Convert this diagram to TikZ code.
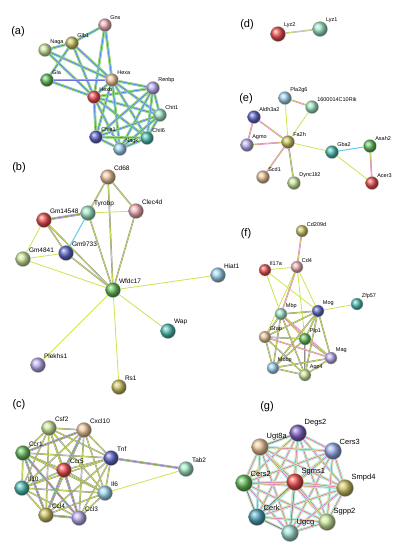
\documentclass[tikz,border=0pt]{standalone}
\usepackage{fontspec}
\setmainfont{Liberation Sans}
\usetikzlibrary{backgrounds}
\definecolor{cred}{RGB}{238,80,80}
\definecolor{cpink}{RGB}{240,178,182}
\definecolor{ctan}{RGB}{236,198,155}
\definecolor{colive}{RGB}{205,195,100}
\definecolor{clgreen}{RGB}{205,232,155}
\definecolor{cgreen}{RGB}{100,190,90}
\definecolor{cmint}{RGB}{160,230,198}
\definecolor{cteal}{RGB}{80,190,180}
\definecolor{cblue}{RGB}{95,105,200}
\definecolor{clblue}{RGB}{160,212,240}
\definecolor{clav}{RGB}{190,175,240}
\definecolor{cpurple}{RGB}{130,100,200}
\definecolor{cperi}{RGB}{150,170,235}
\definecolor{ccerk}{RGB}{80,165,190}
\definecolor{cugcg}{RGB}{160,225,212}
\definecolor{etm}{RGB}{205,228,80}
\definecolor{eco}{RGB}{95,95,95}
\definecolor{eex}{RGB}{230,110,220}
\definecolor{edb}{RGB}{90,205,238}
\definecolor{enb}{RGB}{110,200,110}
\definecolor{eoc}{RGB}{110,115,225}
\tikzset{
  gnode/.style={circle, inner sep=0pt, shading=ball, draw=black!30, line width=0.3pt},
  pa/.style={gnode, minimum size=13pt, label distance=0pt},
  pb/.style={gnode, minimum size=15pt},
  pg/.style={gnode, minimum size=17pt},
  pf/.style={gnode, minimum size=12pt},
  la/.style={inner sep=0.4pt, font=\fontsize{5.5}{6}\selectfont},
  lb/.style={inner sep=0.4pt, font=\fontsize{6.5}{7}\selectfont},
  lg/.style={inner sep=0.4pt, font=\fontsize{7.5}{8}\selectfont},
  plab/.style={font=\fontsize{11}{12}\selectfont, inner sep=0pt},
  tm/.style={draw=etm, line width=0.8pt},
  tmco/.style={draw=eco!70, line width=1.5pt, postaction={draw=etm, line width=0.65pt}},
  tmex/.style={draw=eex, line width=1.5pt, postaction={draw=etm, line width=0.65pt}},
  full/.style={draw=eex, line width=2.3pt, postaction={draw=edb, line width=1.6pt},
    postaction={draw=etm, line width=0.95pt}, postaction={draw=eco, line width=0.35pt}},
  rich/.style={draw=enb, line width=2.6pt, postaction={draw=etm, line width=1.95pt},
    postaction={draw=edb, line width=1.3pt}, postaction={draw=eoc, line width=0.55pt}},
  gfull/.style={draw=edb, line width=2.5pt, postaction={draw=white, line width=1.9pt},
    postaction={draw=etm, line width=1.35pt}, postaction={draw=eex, line width=0.55pt}},
  gdark/.style={draw=eco!80, line width=0.6pt},
}
\begin{document}
\begin{tikzpicture}[x=1pt, y=-1pt]
\useasboundingbox (0,0) rectangle (399,550);
% ---------- (a)
\node[plab] (labA) at (18,32) {(a)};
\node[pa, ball color=cpink, label={[la]45:Gns}] (gns) at (105,25) {};
\node[pa, ball color=colive, label={[la]45:Glb1}] (glb1) at (72,43) {};
\node[pa, ball color=clgreen, label={[la]45:Naga}] (naga) at (45,50) {};
\node[pa, ball color=cgreen, label={[la]45:Gla}] (gla) at (47,80) {};
\node[pa, ball color=ctan, label={[la]45:Hexa}] (hexa) at (112,80) {};
\node[pa, ball color=cred, label={[la]45:Hexb}] (hexb) at (94,97) {};
\node[pa, ball color=clav, label={[la]45:Renbp}] (renbp) at (153,88) {};
\node[pa, ball color=cmint, label={[la]45:Chit1}] (chit1) at (160,115) {};
\node[pa, ball color=cteal, label={[la]45:Chil6}] (chil6) at (147,138) {};
\node[pa, ball color=cblue, label={[la]45:Chia1}] (chia1) at (96,137) {};
\node[pa, ball color=clblue, label={[la]45:Nagk}] (nagk) at (120,149) {};
% ---------- (b)
\node[plab] (labB) at (19,168) {(b)};
\node[pb, ball color=ctan, label={[lb]45:Cd68}] (cd68) at (108,177) {};
\node[pb, ball color=cmint, label={[lb]45:Tyrobp}] (tyrobp) at (88,213) {};
\node[pb, ball color=cpink, label={[lb]45:Clec4d}] (clec4d) at (136,211) {};
\node[pb, ball color=cred, label={[lb]45:Gm14548}] (gm14548) at (44,220) {};
\node[pb, ball color=cblue, label={[lb]45:Gm9733}] (gm9733) at (66,253) {};
\node[pb, ball color=clgreen, label={[lb]45:Gm4841}] (gm4841) at (23,259) {};
\node[pb, ball color=cgreen, label={[lb]45:Wfdc17}] (wfdc17) at (113,290) {};
\node[pb, ball color=clblue, label={[lb]45:Hiat1}] (hiat1) at (218,275) {};
\node[pb, ball color=cteal, label={[lb]45:Wap}] (wap) at (168,331) {};
\node[pb, ball color=clav, label={[lb]45:Plekhs1}] (plekhs1) at (38,365) {};
\node[pb, ball color=colive, label={[lb]45:Rs1}] (rs1) at (119,387) {};
% ---------- (c)
\node[plab] (labC) at (19,405) {(c)};
\node[pb, ball color=clgreen, label={[lb]45:Csf2}] (csf2) at (49,428) {};
\node[pb, ball color=ctan, label={[lb]45:Cxcl10}] (cxcl10) at (84,430) {};
\node[pb, ball color=cgreen, label={[lb]45:Ccr1}] (ccr1) at (23,453) {};
\node[pb, ball color=cblue, label={[lb]45:Tnf}] (tnf) at (111,458) {};
\node[pb, ball color=cred, label={[lb]45:Ccr5}] (ccr5) at (64,470) {};
\node[pb, ball color=cmint, label={[lb]45:Tab2}] (tab2) at (186,469) {};
\node[pb, ball color=cteal, label={[lb]45:Il10}] (il10) at (22,488) {};
\node[pb, ball color=clblue, label={[lb]45:Il6}] (il6) at (105,493) {};
\node[pb, ball color=colive, label={[lb]45:Ccl4}] (ccl4) at (46,515) {};
\node[pb, ball color=clav, label={[lb]45:Ccl3}] (ccl3) at (79,518) {};
% ---------- (d)
\node[plab] (labD) at (247,25) {(d)};
\node[pb, ball color=cred, label={[la]45:Lyz2}] (lyz2) at (278,34) {};
\node[pb, ball color=cmint, label={[la]45:Lyz1}] (lyz1) at (320,29) {};
% ---------- (e)
\node[plab] (labE) at (246,99) {(e)};
\node[pa, ball color=clblue, label={[la]45:Pla2g6}] (pla) at (285,98) {};
\node[pa, ball color=cmint, label={[la]45:1600014C10Rik}] (rik) at (312,107) {};
\node[pa, ball color=cblue, label={[la]45:Aldh3a2}] (ald) at (254,117) {};
\node[pa, ball color=clav, label={[la]45:Agmo}] (agmo) at (247,145) {};
\node[pa, ball color=colive, label={[la]45:Fa2h}] (fa2h) at (288,142) {};
\node[pa, ball color=cteal, label={[la]45:Gba2}] (gba2) at (332,152) {};
\node[pa, ball color=cgreen, label={[la]45:Asah2}] (asah2) at (370,146) {};
\node[pa, ball color=cred, label={[la]45:Acer3}] (acer3) at (372,183) {};
\node[pa, ball color=ctan, label={[la]45:Scd1}] (scd1) at (263,177) {};
\node[pa, ball color=clgreen, label={[la]45:Dync1li2}] (dync) at (294,183) {};
% ---------- (f)
\node[plab] (labF) at (246,234) {(f)};
\node[pf, ball color=colive, label={[la]45:Cd209d}] (cd209d) at (302,231) {};
\node[pf, ball color=cred, label={[la]45:Il17a}] (il17a) at (265,270) {};
\node[pf, ball color=cpink, label={[la]45:Cd4}] (cd4) at (297,267) {};
\node[pf, ball color=cteal, label={[la]45:Zfp57}] (zfp57) at (357,304) {};
\node[pf, ball color=cblue, label={[la]45:Mog}] (mog) at (318,311) {};
\node[pf, ball color=cmint, label={[la]45:Mbp}] (mbp) at (281,314) {};
\node[pf, ball color=ctan, label={[la]45:Gfap}] (gfap) at (265,337) {};
\node[pf, ball color=cgreen, label={[la]45:Plp1}] (plp1) at (305,339) {};
\node[pf, ball color=clav, label={[la]45:Mag}] (mag) at (331,358) {};
\node[pf, ball color=clblue, label={[la]45:Mobp}] (mobp) at (273,368) {};
\node[pf, ball color=clgreen, label={[la]45:Aqp4}] (aqp4) at (305,375) {};
% ---------- (g)
\node[plab] (labG) at (267,407) {(g)};
\node[pg, ball color=cpurple, label={[lg]45:Degs2}] (degs2) at (298,433) {};
\node[pg, ball color=ctan, label={[lg]45:Ugt8a}] (ugt8a) at (260,447) {};
\node[pg, ball color=cperi, label={[lg]45:Cers3}] (cers3) at (333,451) {};
\node[pg, ball color=cgreen, label={[lg]45:Cers2}] (cers2) at (244,483) {};
\node[pg, ball color=cred, label={[lg]45:Sgms1}] (sgms1) at (295,482) {};
\node[pg, ball color=colive, label={[lg]45:Smpd4}] (smpd4) at (345,488) {};
\node[pg, ball color=ccerk, label={[lg]45:Cerk}] (cerk) at (257,517) {};
\node[pg, ball color=clgreen, label={[lg]45:Sgpp2}] (sgpp2) at (327,522) {};
\node[pg, ball color=cugcg, label={[lg]45:Ugcg}] (ugcg) at (290,533) {};
% ---------- edges
\begin{scope}[on background layer]
\fill[white] (0,0) rectangle (399,550);
% (a)
\foreach \a/\b in {gns/glb1, gns/hexa, gns/hexb, glb1/naga, glb1/gla, glb1/hexa, glb1/hexb,
  naga/hexa, naga/hexb, gla/hexa, gla/hexb, hexa/hexb, hexa/renbp, hexb/renbp, hexa/chit1,
  hexb/chit1, hexa/chil6, hexb/chil6, hexa/chia1, hexb/chia1, hexa/nagk, hexb/nagk,
  renbp/nagk, renbp/chia1, renbp/chil6, renbp/chit1, chit1/chia1, chit1/chil6, chit1/nagk,
  chil6/chia1, chil6/nagk, chia1/nagk}
  \draw[rich] (\a) -- (\b);
% (b)
\foreach \a/\b in {cd68/tyrobp, cd68/clec4d, cd68/wfdc17, tyrobp/wfdc17, clec4d/wfdc17,
  gm14548/wfdc17, gm9733/wfdc17, gm14548/gm9733}
  \draw[tmco] (\a) -- (\b);
\foreach \a/\b in {tyrobp/clec4d, gm14548/gm4841, gm9733/gm4841, gm4841/wfdc17,
  wfdc17/hiat1, wfdc17/wap, wfdc17/plekhs1, wfdc17/rs1}
  \draw[tm] (\a) -- (\b);
\draw[full] (gm14548) -- (tyrobp);
\draw[draw=edb, line width=1pt] (tyrobp) -- (gm9733);
% (c)
\foreach \a/\b in {csf2/cxcl10, csf2/ccr1, csf2/tnf, csf2/ccr5, csf2/il10, csf2/il6, csf2/ccl4, csf2/ccl3,
  cxcl10/ccr1, cxcl10/tnf, cxcl10/ccr5, cxcl10/il10, cxcl10/il6, cxcl10/ccl4, cxcl10/ccl3,
  ccr1/tnf, ccr1/ccr5, ccr1/il10, ccr1/il6, ccr1/ccl4, ccr1/ccl3,
  tnf/ccr5, tnf/il10, tnf/il6, tnf/ccl4, tnf/ccl3,
  ccr5/il10, ccr5/il6, ccr5/ccl4, ccr5/ccl3,
  il10/il6, il10/ccl4, il10/ccl3, il6/ccl4, il6/ccl3, ccl4/ccl3}
  \draw[tmco] (\a) -- (\b);
\foreach \a/\b in {ccr1/cxcl10, cxcl10/ccr5, ccr5/ccl4, ccr5/ccl3, ccr1/ccl3, ccl4/ccl3, ccr1/ccl4}
  \draw[full] (\a) -- (\b);
\draw[full] (tnf) -- (tab2);
\draw[tm] (il6) -- (tab2);
% (d)
\draw[draw=clav, line width=1.5pt, postaction={draw=etm, line width=0.65pt}] (lyz2) -- (lyz1);
% (e)
\foreach \a/\b in {pla/rik, ald/agmo, ald/fa2h, agmo/fa2h, scd1/fa2h, asah2/acer3}
  \draw[tmex] (\a) -- (\b);
\foreach \a/\b in {pla/fa2h, rik/fa2h, fa2h/gba2, gba2/acer3}
  \draw[tm] (\a) -- (\b);
\draw[tmco] (dync) -- (fa2h);
\draw[draw=edb, line width=1pt] (gba2) -- (asah2);
% (f)
\foreach \a/\b in {il17a/cd4, il17a/mbp, il17a/mog, cd4/plp1, cd4/mog, mog/zfp57, cd4/gfap}
  \draw[tm] (\a) -- (\b);
\foreach \a/\b in {mbp/mog, mbp/gfap, mbp/mobp, mbp/aqp4, mog/plp1, mog/gfap, mog/mag, mog/mobp,
  mog/aqp4, gfap/plp1, gfap/mobp, gfap/aqp4, plp1/mag, plp1/mobp, plp1/aqp4, mag/mobp,
  mag/aqp4, mobp/aqp4}
  \draw[tmco] (\a) -- (\b);
\foreach \a/\b in {cd209d/cd4, cd4/mbp, mbp/plp1, mbp/mag, gfap/mag}
  \draw[tmex] (\a) -- (\b);
% (g)
\foreach \a/\b in {degs2/ugt8a, degs2/cers3, degs2/cers2, degs2/sgms1, degs2/smpd4, degs2/cerk, degs2/sgpp2, degs2/ugcg,
  ugt8a/cers3, ugt8a/cers2, ugt8a/sgms1, ugt8a/smpd4, ugt8a/cerk, ugt8a/sgpp2, ugt8a/ugcg,
  cers3/cers2, cers3/sgms1, cers3/smpd4, cers3/cerk, cers3/sgpp2, cers3/ugcg,
  cers2/sgms1, cers2/smpd4, cers2/cerk, cers2/sgpp2, cers2/ugcg,
  sgms1/smpd4, sgms1/cerk, sgms1/sgpp2, sgms1/ugcg,
  smpd4/cerk, smpd4/sgpp2, smpd4/ugcg, cerk/sgpp2, cerk/ugcg, sgpp2/ugcg}
  \draw[gfull] (\a) -- (\b);
\foreach \a/\b in {ugt8a/degs2, cers2/cerk, cerk/sgms1, sgms1/ugcg, cerk/ugcg}
  \draw[gdark] (\a) -- (\b);
\end{scope}
\end{tikzpicture}
\end{document}
